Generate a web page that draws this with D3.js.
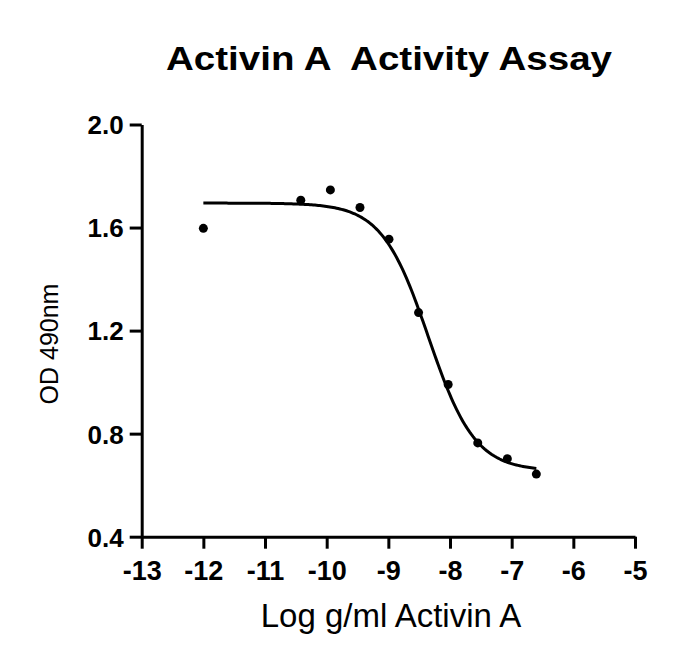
<!DOCTYPE html>
<html>
<head>
<meta charset="utf-8">
<script src="https://cdn.jsdelivr.net/npm/d3@7"></script>
<style>
  html, body { margin: 0; padding: 0; background: #fff; }
  svg { display: block; }
  text { font-family: "Liberation Sans", Arial, Helvetica, sans-serif; fill: #000; }
</style>
</head>
<body>
<script>
// ---- data ----
const logConc = [-12.0, -10.42, -9.94, -9.46, -8.99, -8.51, -8.03, -7.55, -7.07, -6.60];
const odValues = [1.597, 1.706, 1.746, 1.678, 1.555, 1.270, 0.991, 0.764, 0.703, 0.643];
// four-parameter logistic fit shown as the curve
const fitTop = 1.695, fitBottom = 0.655, fitLogEC50 = -8.35, fitHill = 1.15;
const fitRange = [-12.0, -6.60];
const xTicks = [-13, -12, -11, -10, -9, -8, -7, -6, -5];
const yTicks = [0.4, 0.8, 1.2, 1.6, 2.0];
const titleText = "Activin A  Activity Assay";
const xLabel = "Log g/ml Activin A";
const yLabel = "OD 490nm";

const W = 690, H = 666;
const svg = d3.select("body").append("svg").attr("width", W).attr("height", H);

const x = d3.scaleLinear().domain([-13, -5]).range([141.7, 635]);
const y = d3.scaleLinear().domain([0.4, 2.0]).range([536.7, 124.5]);

// axes
const yAxis = d3.axisLeft(y).tickValues(yTicks).tickFormat(d3.format(".1f"))
  .tickSize(12).tickSizeOuter(0).tickPadding(6);
const xAxis = d3.axisBottom(x).tickValues(xTicks).tickFormat(d => d3.format("d")(d).replace("−", "-"))
  .tickSize(12).tickSizeOuter(0).tickPadding(12);

const gy = svg.append("g").attr("transform", `translate(${x(-13)},0)`).call(yAxis);
const gx = svg.append("g").attr("transform", `translate(0,${y(0.4)})`).call(xAxis);
[gx, gy].forEach(g => {
  g.selectAll("path.domain").attr("stroke", "#000").attr("stroke-width", 3);
  g.selectAll(".tick line").attr("stroke", "#000").attr("stroke-width", 3);
  g.selectAll(".tick text")
    .style("font-family", '"Liberation Sans", Arial, Helvetica, sans-serif')
    .style("font-weight", "bold").attr("fill", "#000");
});
gy.selectAll(".tick text").style("font-size", "26px").attr("dy", "0.36em");
gx.selectAll(".tick text").style("font-size", "27px").attr("dy", "0.72em");

// fitted curve
const curvePts = d3.range(0, 201).map(i => {
  const lx = fitRange[0] + (fitRange[1] - fitRange[0]) * i / 200;
  return [lx, fitBottom + (fitTop - fitBottom) / (1 + Math.pow(10, (lx - fitLogEC50) * fitHill))];
});
svg.append("path")
  .datum(curvePts)
  .attr("fill", "none").attr("stroke", "#000").attr("stroke-width", 3)
  .attr("d", d3.line().x(d => x(d[0])).y(d => y(d[1])));

// points
svg.append("g").selectAll("circle")
  .data(logConc.map((c, i) => [c, odValues[i]]))
  .join("circle")
  .attr("cx", d => x(d[0])).attr("cy", d => y(d[1]))
  .attr("r", 4.5).attr("fill", "#000");

// title
svg.append("text")
  .attr("x", 389).attr("y", 70)
  .attr("text-anchor", "middle")
  .attr("xml:space", "preserve")
  .style("white-space", "pre")
  .attr("textLength", 446).attr("lengthAdjust", "spacingAndGlyphs")
  .style("font-weight", "bold").style("font-size", "34px")
  .text(titleText);

// x label
svg.append("text")
  .attr("x", 391).attr("y", 627)
  .attr("text-anchor", "middle")
  .style("font-size", "33px")
  .text(xLabel);

// y label
svg.append("text")
  .attr("transform", "translate(58,344) rotate(-90)")
  .attr("text-anchor", "middle")
  .style("font-size", "25px")
  .text(yLabel);
</script>
</body>
</html>
